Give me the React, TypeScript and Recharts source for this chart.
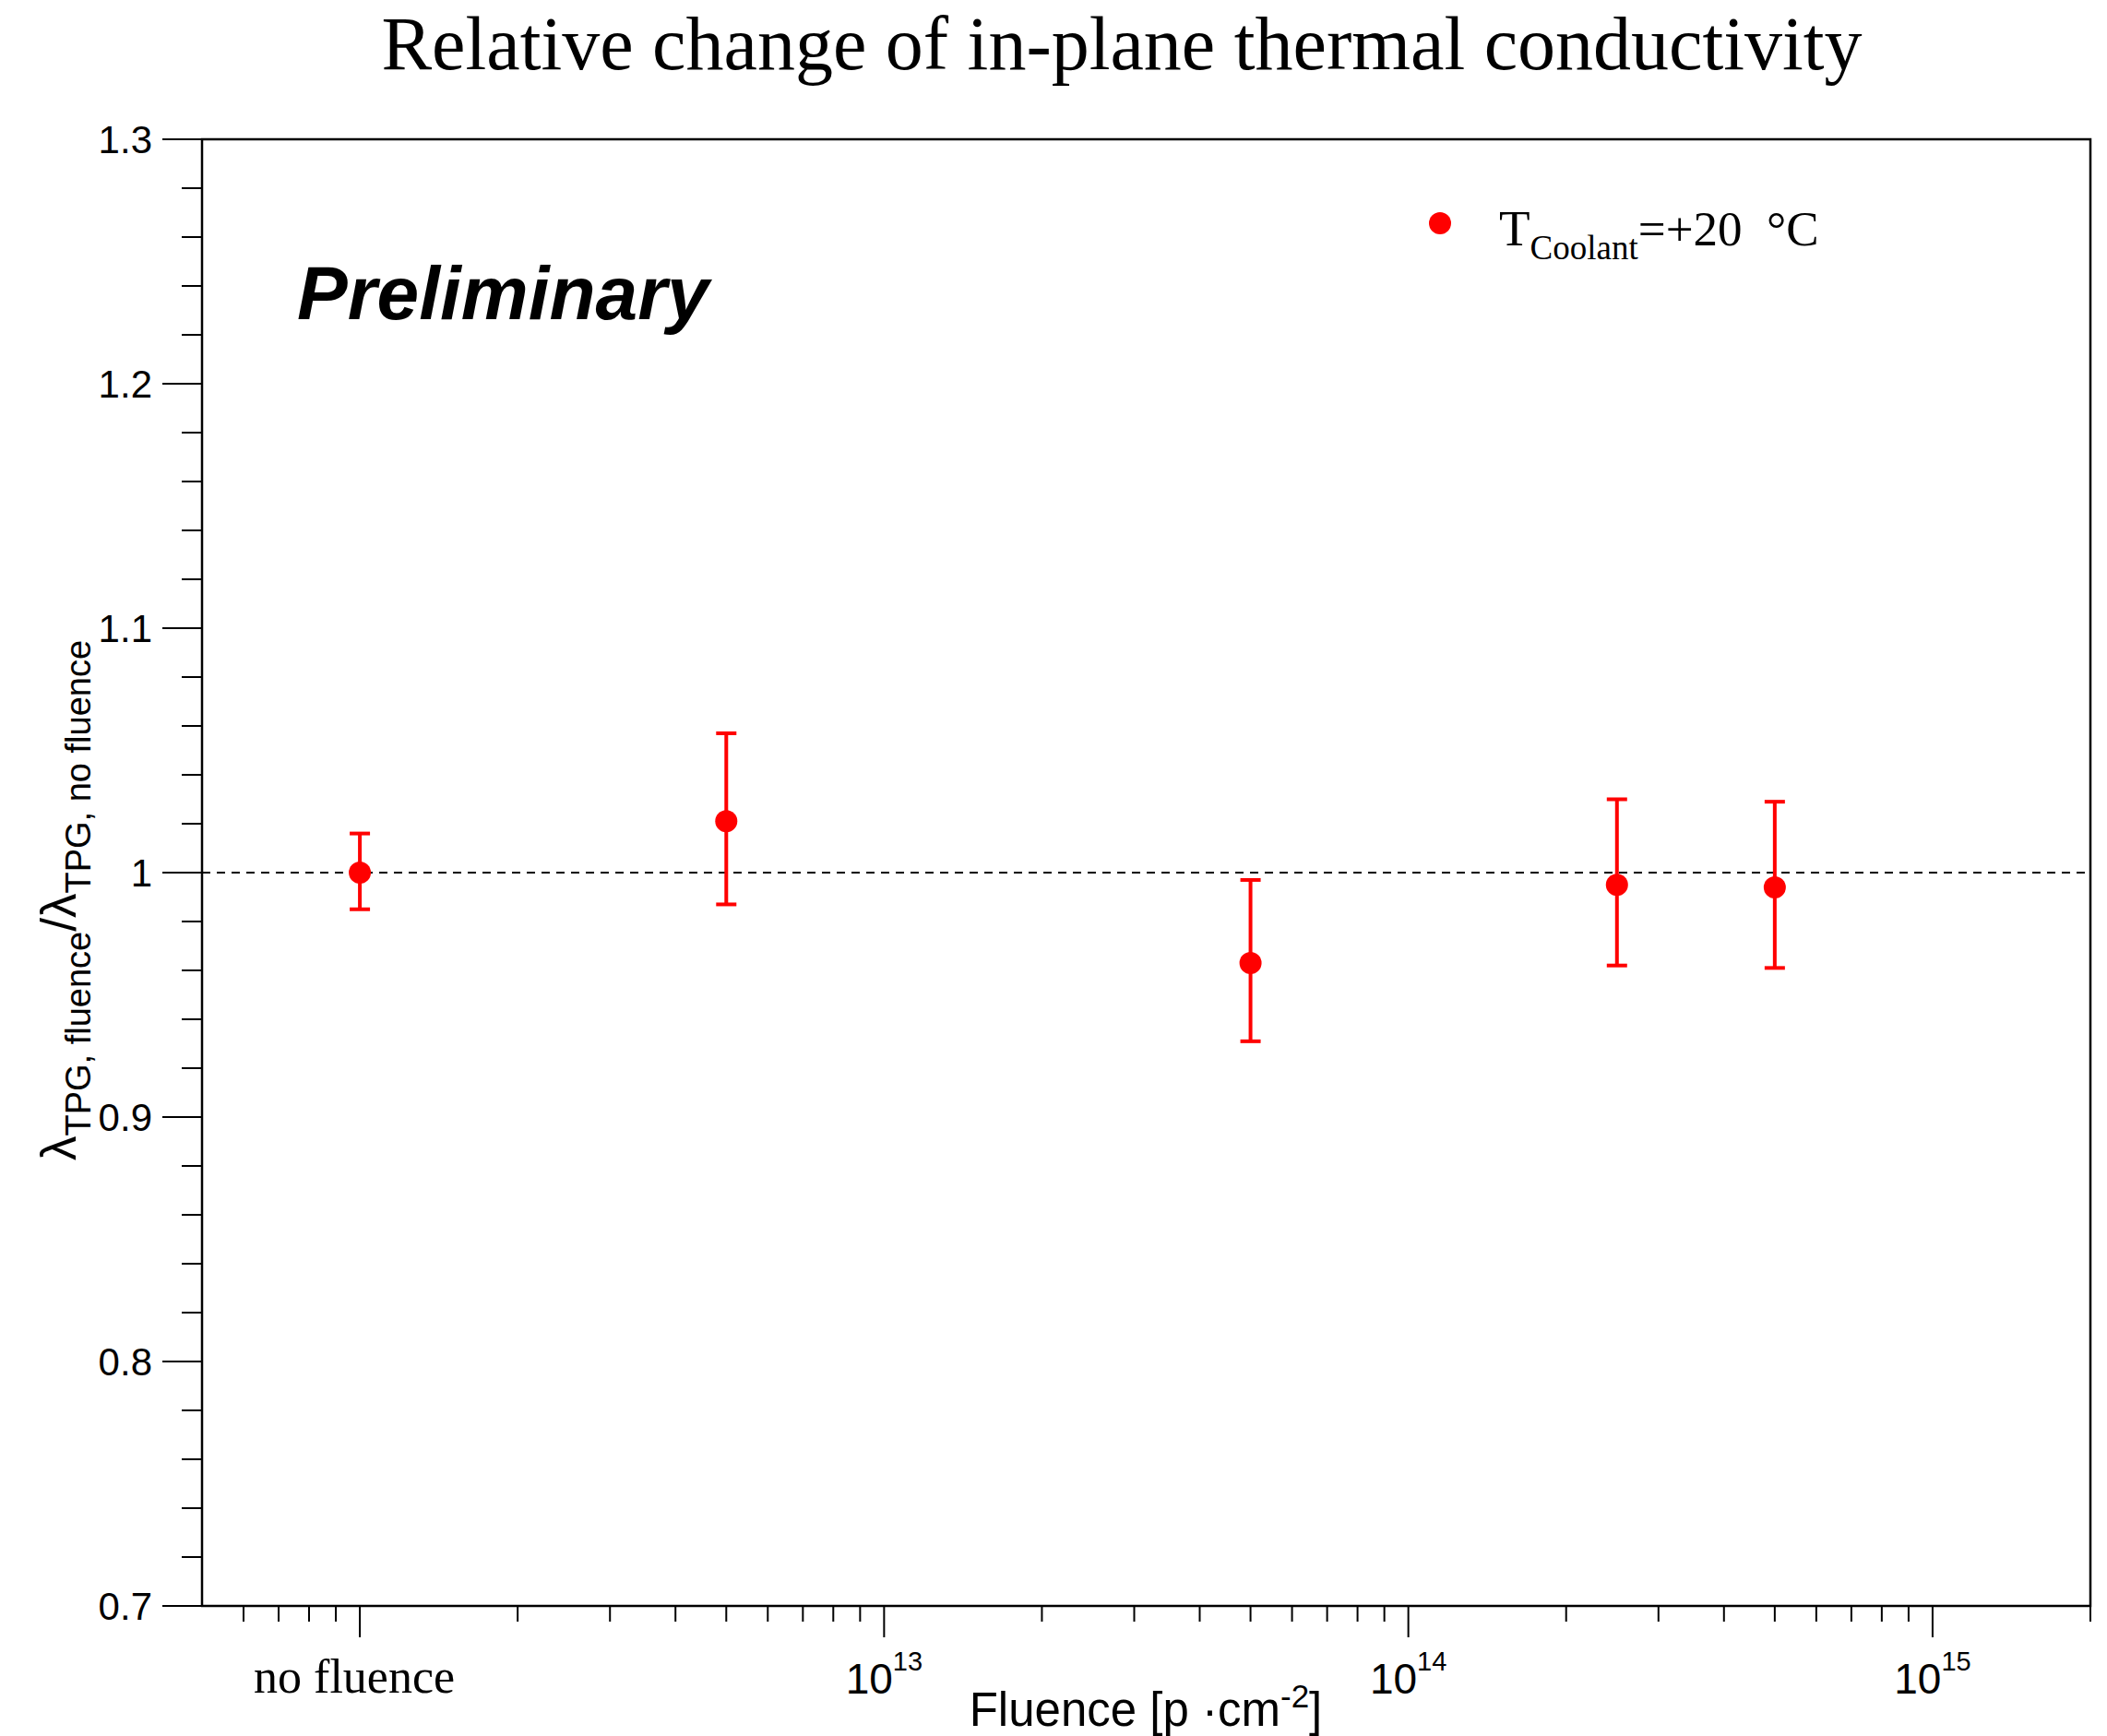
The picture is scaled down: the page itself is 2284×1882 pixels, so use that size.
import React from 'react';
import {
  ComposedChart,
  Scatter,
  XAxis,
  YAxis,
  ErrorBar,
  ReferenceLine,
  ReferenceArea,
  Customized,
} from 'recharts';

// Measured points: fluence [p/cm^2] ("no fluence" reference is placed at 1e12)
const fluence = [1e12, 5e12, 5e13, 2.5e14, 5e14];
const ratio = [1.0, 1.021, 0.963, 0.995, 0.994];
const errLow = [0.015, 0.034, 0.032, 0.033, 0.033];
const errHigh = [0.016, 0.036, 0.034, 0.035, 0.035];

// Axis ranges and ticks
const xDomain = [5e11, 2e15];
const yDomain = [0.7, 1.3];
const xMajorTicks = [1e12, 1e13, 1e14, 1e15];
const xMajorBase = ['no fluence', '10', '10', '10'];
const xMajorExp = ['', '13', '14', '15'];
const xMinorTicks = [
  6e11, 7e11, 8e11, 9e11,
  2e12, 3e12, 4e12, 5e12, 6e12, 7e12, 8e12, 9e12,
  2e13, 3e13, 4e13, 5e13, 6e13, 7e13, 8e13, 9e13,
  2e14, 3e14, 4e14, 5e14, 6e14, 7e14, 8e14, 9e14,
  2e15,
];
const yMajorTicks = [0.7, 0.8, 0.9, 1.0, 1.1, 1.2, 1.3];
const yMajorLabels = ['0.7', '0.8', '0.9', '1', '1.1', '1.2', '1.3'];
const yMinorTicks = [
  0.72, 0.74, 0.76, 0.78,
  0.82, 0.84, 0.86, 0.88,
  0.92, 0.94, 0.96, 0.98,
  1.02, 1.04, 1.06, 1.08,
  1.12, 1.14, 1.16, 1.18,
  1.22, 1.24, 1.26, 1.28,
];

const titleText = 'Relative change of in-plane thermal conductivity';
const watermark = 'Preliminary';
const legendMain = 'T';
const legendSub = 'Coolant';
const legendRest = '=+20\u00a0\u00a0°C';

const data = fluence.map((x, i) => ({
  x,
  y: ratio[i],
  err: [errLow[i], errHigh[i]],
}));

const RED = '#ff0000';
const SANS = '"Liberation Sans", Arial, Helvetica, sans-serif';
const SERIF = '"Liberation Serif", "Times New Roman", Times, serif';

const isClose = (a: number, b: number) => Math.abs(a - b) < 1e-9 * Math.max(1, Math.abs(b));

const XTick = (props: any) => {
  const { x, y, payload } = props;
  const v = payload.value;
  const idx = xMajorTicks.findIndex((t) => isClose(t, v));
  const major = idx >= 0;
  return (
    <g>
      <line x1={x} y1={y} x2={x} y2={y + (major ? 34 : 17)} stroke="#000" strokeWidth={2} />
      {major && idx === 0 && (
        <text x={x - 6} y={1835} textAnchor="middle" fontFamily={SERIF} fontSize={52} fill="#000">
          {xMajorBase[idx]}
        </text>
      )}
      {major && idx > 0 && (
        <text x={x} y={1836} textAnchor="middle" fontFamily={SANS} fontSize={46} fill="#000">
          <tspan>{xMajorBase[idx]}</tspan>
          <tspan fontSize={29} dy={-25}>{xMajorExp[idx]}</tspan>
        </text>
      )}
    </g>
  );
};

const YTick = (props: any) => {
  const { x, y, payload } = props;
  const v = payload.value;
  const idx = yMajorTicks.findIndex((t) => isClose(t, v));
  const major = idx >= 0;
  return (
    <g>
      <line x1={x} y1={y} x2={x - (major ? 43 : 22)} y2={y} stroke="#000" strokeWidth={2} />
      {major && (
        <text x={x - 54} y={y + 15} textAnchor="end" fontFamily={SANS} fontSize={42} fill="#000">
          {yMajorLabels[idx]}
        </text>
      )}
    </g>
  );
};

const Overlay = () => (
  <g>
    <text x={1216} y={75} textAnchor="middle" fontFamily={SERIF} fontSize={82} fill="#000">
      {titleText}
    </text>
    <text x={322} y={346} fontFamily={SANS} fontSize={82} fontWeight="bold" fontStyle="italic" fill="#000">
      {watermark}
    </text>
    {/* legend */}
    <circle cx={1561} cy={242} r={12} fill={RED} />
    <text x={1625} y={266} fontFamily={SERIF} fontSize={55} fill="#000">
      <tspan>{legendMain}</tspan>
      <tspan fontSize={37} dy={15}>{legendSub}</tspan>
      <tspan fontSize={53} dy={-15}>{legendRest}</tspan>
    </text>
    {/* axis titles */}
    <text transform="translate(82,976) rotate(-90)" textAnchor="middle" fontFamily={SANS} fontSize={53} fill="#000">
      <tspan>λ</tspan>
      <tspan fontSize={38} dy={16}>TPG, fluence</tspan>
      <tspan dy={-16}>/λ</tspan>
      <tspan fontSize={38} dy={16}>TPG, no fluence</tspan>
    </text>
    <text x={1242} y={1871} textAnchor="middle" fontFamily={SANS} fontSize={51} fill="#000">
      <tspan>Fluence [p ·cm</tspan>
      <tspan fontSize={35} dy={-20}>-2</tspan>
      <tspan dy={20}>]</tspan>
    </text>
  </g>
);

const Dot = (props: any) => <circle cx={props.cx} cy={props.cy} r={12} fill={RED} />;

export default function App() {
  return (
    <div style={{ position: 'absolute', left: 0, top: 0, width: 2284, height: 1882, background: '#fff' }}>
      <ComposedChart
        width={2284}
        height={1882}
        data={data}
        margin={{ top: 151, right: 18, bottom: 0, left: 0 }}
      >
        <XAxis
          dataKey="x"
          type="number"
          scale="log"
          domain={xDomain}
          allowDataOverflow
          ticks={[...xMinorTicks, ...xMajorTicks].sort((a, b) => a - b)}
          interval={0}
          height={141}
          axisLine={false}
          tickLine={false}
          tickSize={0}
          tickMargin={0}
          tick={<XTick />}
        />
        <YAxis
          type="number"
          domain={yDomain}
          allowDataOverflow
          ticks={[...yMinorTicks, ...yMajorTicks].sort((a, b) => a - b)}
          interval={0}
          width={219}
          axisLine={false}
          tickLine={false}
          tickSize={0}
          tickMargin={0}
          tick={<YTick />}
        />
        <ReferenceLine y={1} stroke="#000" strokeWidth={2} strokeDasharray="9 7" />
        <ReferenceArea
          x1={xDomain[0]}
          x2={xDomain[1]}
          y1={yDomain[0]}
          y2={yDomain[1]}
          fill="none"
          stroke="#000"
          strokeWidth={2.5}
          ifOverflow="visible"
        />
        <Scatter dataKey="y" fill={RED} shape={<Dot />} isAnimationActive={false}>
          <ErrorBar dataKey="err" direction="y" width={11} strokeWidth={4} stroke={RED} />
        </Scatter>
        <Customized component={Overlay} />
      </ComposedChart>
    </div>
  );
}
